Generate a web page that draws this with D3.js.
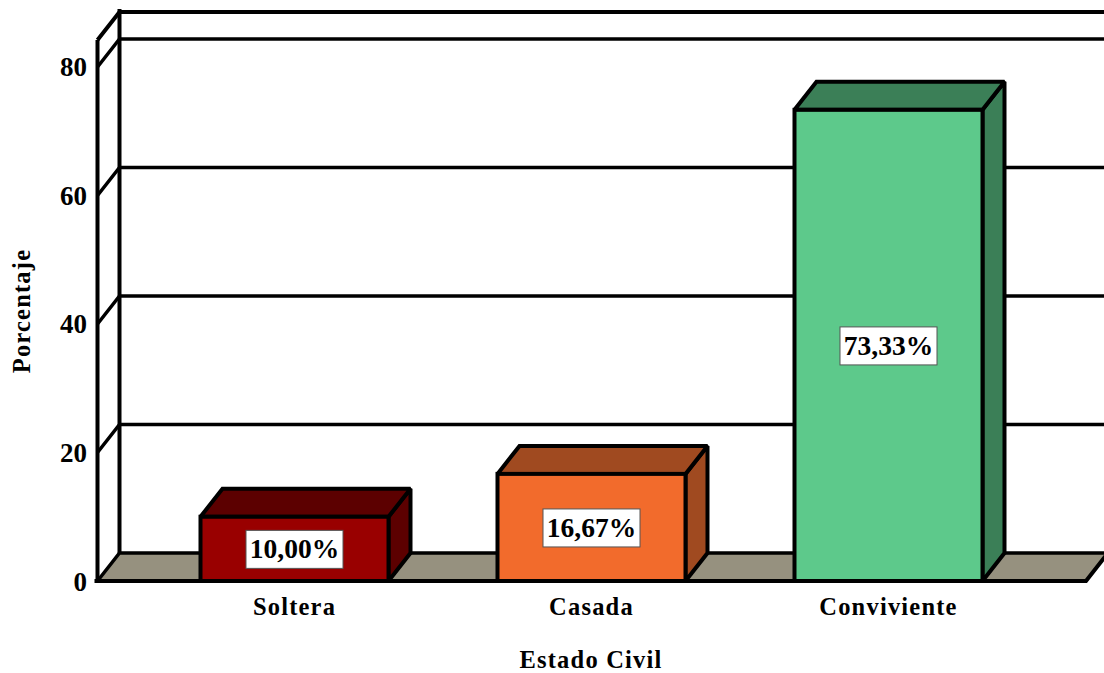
<!DOCTYPE html>
<html><head><meta charset="utf-8">
<script src="https://cdn.jsdelivr.net/npm/d3@7/dist/d3.min.js"></script>
<style>html,body{margin:0;padding:0;background:#fff}svg{display:block}
text{fill:#000;font-family:"Liberation Serif",serif;font-weight:700}</style></head>
<body><div id="c"></div>
<script>
const categories = ["Soltera", "Casada", "Conviviente"];
const values = [10.00, 16.67, 73.33];
const valueLabels = ["10,00%", "16,67%", "73,33%"];
const faceColors = ["#990000", "#f26b2c", "#5dc98b"];
const sideColors = ["#5c0000", "#a04a20", "#3b7f57"];
const yTicks = [0, 20, 40, 60, 80];
const yMax = 84.2;
const xTitle = "Estado Civil";
const yTitle = "Porcentaje";

const W = 1104, H = 673, dx = 22, dy = -28, sw = 4;
const svg = d3.select("#c").append("svg").attr("width", W).attr("height", H);
const y = d3.scaleLinear().domain([0, yMax]).range([581, 40]);
const x = d3.scaleBand().domain(categories).range([146, 1037]).paddingInner(.367).paddingOuter(.1835);
const xL = 97.5, xR = 1086;
const poly = pts => d3.line()(pts);
const line = (pts, w = sw) => svg.append("path").attr("d", poly(pts)).attr("fill", "none")
  .attr("stroke", "#000").attr("stroke-width", w).attr("stroke-linejoin", "miter").attr("stroke-miterlimit", 1.5);

// floor
svg.append("path").attr("d", poly([[xL, y(0)], [xR, y(0)], [xR + dx, y(0) + dy], [xL + dx, y(0) + dy]]) + "Z")
  .attr("fill", "#96917f");
// walls and gridlines
yTicks.forEach(t => {
  line([[xL, y(t)], [xL + dx, y(t) + dy], [W + 5, y(t) + dy]], 3.5);
});
line([[xL, y(yMax)], [xL + dx, y(yMax) + dy], [W + 5, y(yMax) + dy]]);
line([[xL, y(0)], [xL, y(yMax)]]);
line([[xL + dx, y(0) + dy], [xL + dx, y(yMax) + dy - 3]], 4);
line([[xL - 3, y(0)], [xR, y(0)], [xR + dx, y(0) + dy]]);

// bars
categories.forEach((c, i) => {
  const x0 = x(c), x1 = x0 + x.bandwidth(), top = y(values[i]), bot = y(0);
  const g = svg.append("g").attr("stroke", "#000").attr("stroke-width", 4)
    .attr("stroke-linejoin", "miter").attr("stroke-miterlimit", 1.5);
  g.append("path").attr("d", poly([[x1, bot], [x1 + dx, bot + dy], [x1 + dx, top + dy], [x1, top]]) + "Z").attr("fill", sideColors[i]);
  g.append("path").attr("d", poly([[x0, top], [x0 + dx, top + dy], [x1 + dx, top + dy], [x1, top]]) + "Z").attr("fill", sideColors[i]);
  g.append("rect").attr("x", x0).attr("y", top).attr("width", x1 - x0).attr("height", bot - top).attr("fill", faceColors[i]);
  const cx = (x0 + x1) / 2, cy = (top + bot) / 2;
  svg.append("rect").attr("x", cx - 48.5).attr("y", cy - 18.5).attr("width", 97).attr("height", 38)
    .attr("fill", "#fff").attr("stroke", "#555").attr("stroke-width", 1);
  svg.append("text").attr("x", cx).attr("y", cy + 9.5).attr("text-anchor", "middle")
    .attr("font-size", 27.5).text(valueLabels[i]);
  svg.append("text").attr("x", cx).attr("y", 615).attr("text-anchor", "middle")
    .attr("font-size", 24.5).attr("letter-spacing", 1.2).text(c);
});

// y tick labels
yTicks.forEach(t => {
  svg.append("text").attr("x", 87).attr("y", y(t) + 9.5).attr("text-anchor", "end")
    .attr("font-size", 27).text(d3.format("d")(t));
});
svg.append("text").attr("x", 591).attr("y", 668).attr("text-anchor", "middle")
  .attr("font-size", 24.5).attr("letter-spacing", 1.2).text(xTitle);
svg.append("text").attr("transform", "translate(30,311) rotate(-90)").attr("text-anchor", "middle")
  .attr("font-size", 24.5).attr("letter-spacing", 1.2).text(yTitle);
</script></body></html>
